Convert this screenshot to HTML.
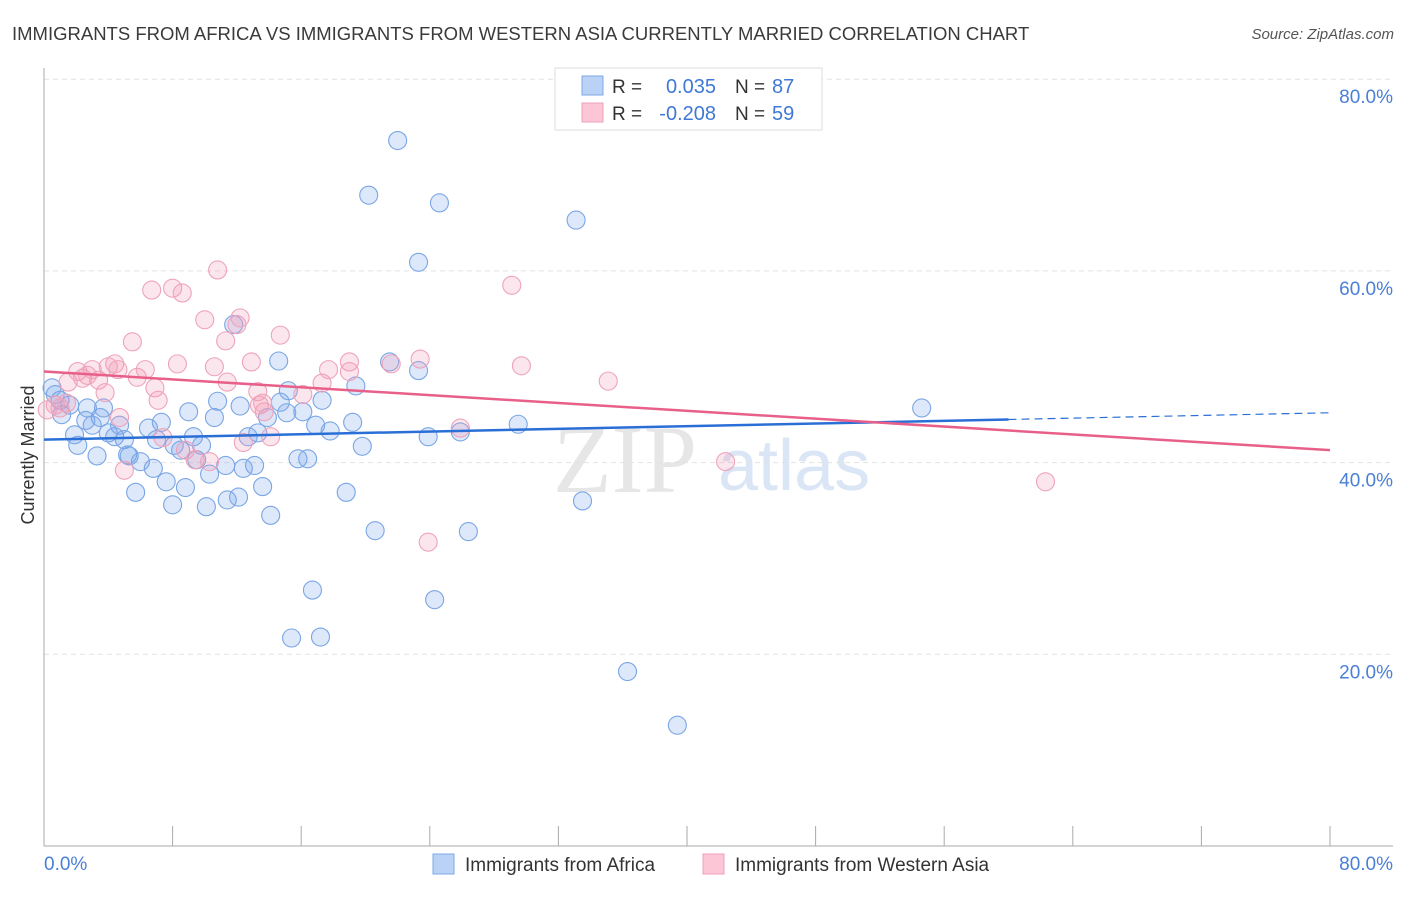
<!DOCTYPE html>
<html><head><meta charset="utf-8"><style>
body{margin:0;background:#fff;font-family:"Liberation Sans",sans-serif}
</style></head><body>
<svg id="c" width="1406" height="892" xmlns="http://www.w3.org/2000/svg" font-family="Liberation Sans, sans-serif">
<text x="12" y="40" font-size="18.5" fill="#3a3a3a">IMMIGRANTS FROM AFRICA VS IMMIGRANTS FROM WESTERN ASIA CURRENTLY MARRIED CORRELATION CHART</text>
<text x="1394" y="39" font-size="15" fill="#555" font-style="italic" text-anchor="end">Source: ZipAtlas.com</text>
<text x="553" y="492" font-size="96" font-family="Liberation Serif, serif" fill="#e6e6e6">ZIP</text>
<text x="718" y="490" font-size="72" fill="#dae6f6">atlas</text>
<g id="grid"></g><g id="axes"></g><g id="pts"></g><g id="lines"></g>
<text transform="translate(34,455) rotate(-90)" font-size="18" fill="#333" text-anchor="middle">Currently Married</text>
<g>
<rect x="555" y="68" width="267" height="62" fill="#fff" stroke="#ddd"/>
<rect x="582" y="76" width="21" height="19" fill="#b9d2f5" stroke="#7fa8e6"/>
<rect x="582" y="103" width="21" height="19" fill="#fcc6d6" stroke="#eda0b8"/>
<text x="612" y="93" font-size="19" fill="#333">R = </text><text x="716" y="93" font-size="20" fill="#3f78d6" text-anchor="end">0.035</text>
<text x="735" y="93" font-size="19" fill="#333">N = </text><text x="772" y="93" font-size="20" fill="#3f78d6">87</text>
<text x="612" y="120" font-size="19" fill="#333">R = </text><text x="716" y="120" font-size="20" fill="#3f78d6" text-anchor="end">-0.208</text>
<text x="735" y="120" font-size="19" fill="#333">N = </text><text x="772" y="120" font-size="20" fill="#3f78d6">59</text>
</g>
<g>
<rect x="433" y="854" width="21" height="20" fill="#b9d2f5" stroke="#7fa8e6"/>
<text x="465" y="871" font-size="19" fill="#333">Immigrants from Africa</text>
<rect x="703" y="854" width="21" height="20" fill="#fcc6d6" stroke="#eda0b8"/>
<text x="735" y="871" font-size="19" fill="#333">Immigrants from Western Asia</text>
</g>
</svg>
<script>
const blueX=[0.5,0.7,1.0,1.1,1.6,1.9,2.1,2.6,2.7,3.0,3.3,3.5,3.7,4.0,4.4,4.7,5.0,5.2,5.3,5.7,6.0,6.5,6.8,7.0,7.3,7.6,8.0,8.1,8.5,8.8,9.0,9.3,9.5,9.8,10.1,10.3,10.6,10.8,11.3,11.4,11.8,12.1,12.2,12.4,12.7,13.1,13.3,13.6,13.9,14.1,14.6,14.7,15.1,15.2,15.4,15.8,16.1,16.4,16.7,16.9,17.2,17.3,17.8,18.8,19.2,19.4,19.8,20.2,20.6,21.5,22.0,23.3,23.3,23.9,24.3,24.6,25.9,26.4,29.5,33.1,33.5,36.3,39.4,54.6];
const blueY=[47.8,47.1,46.5,45.0,46.0,42.9,41.8,44.4,45.7,43.9,40.7,44.7,45.7,43.1,42.7,43.9,42.4,40.8,40.7,36.9,40.1,43.6,39.4,42.4,44.2,38.0,35.6,41.8,41.3,37.4,45.3,42.7,40.3,41.8,35.4,38.8,44.7,46.4,39.7,36.1,54.4,36.4,45.9,39.4,42.7,39.7,43.1,37.5,44.7,34.5,50.6,46.3,45.2,47.5,21.7,40.4,45.3,40.4,26.7,43.9,21.8,46.5,43.3,36.9,44.2,48.0,41.7,67.9,32.9,50.5,73.6,49.6,60.9,42.7,25.7,67.1,43.2,32.8,44.0,65.3,36.0,18.2,12.6,45.7];
const pinkX=[0.2,0.7,1.0,1.4,1.5,2.1,2.4,2.7,3.0,3.4,3.8,4.0,4.4,4.6,4.7,5.0,5.5,5.8,6.3,6.7,6.9,7.1,7.4,8.0,8.3,8.6,8.8,9.4,10.0,10.3,10.6,10.8,11.3,11.4,12.0,12.2,12.9,13.3,13.4,13.7,14.1,14.7,16.1,17.3,17.7,19.0,19.0,21.6,23.4,23.9,25.9,29.1,29.7,35.1,42.4,62.3,13.6,12.4];
const pinkY=[45.5,46.0,45.7,46.2,48.4,49.5,48.8,49.1,49.7,48.6,47.3,50.0,50.3,49.7,44.7,39.2,52.6,48.9,49.7,58.0,47.8,46.5,42.6,58.2,50.3,57.7,41.3,40.3,54.9,40.1,50.0,60.1,52.7,48.4,54.4,55.1,50.5,47.4,46.0,45.3,42.7,53.3,47.1,48.3,49.7,50.5,49.5,50.3,50.8,31.7,43.6,58.5,50.1,48.5,40.1,38.0,46.2,42.1];
const yTicks=[20,40,60,80];
const xTickLabels=["0.0%","80.0%"];
const blueTrend=[42.4,45.2];
const pinkTrend=[49.5,41.3];
const NS="http://www.w3.org/2000/svg";
const X=v=>44+v/80*1286, Y=v=>846-v/20*191.7;
function mk(tag,parent,attrs){const e=document.createElementNS(NS,tag);for(const k in attrs)e.setAttribute(k,attrs[k]);document.getElementById(parent).appendChild(e);return e;}
yTicks.forEach(t=>{
 const g=mk('line','grid',{x1:44,x2:1393,y1:Y(t),y2:Y(t),stroke:'#e2e2e2','stroke-dasharray':'5,4'});
 
 
 const l=mk('text','grid',{x:1393,y:Y(t)+24,'font-size':19,fill:'#4a7fd6','text-anchor':'end'});
 l.textContent=t.toFixed(1)+'%';
 
 
});
const ax=mk('line','axes',{x1:44,x2:44,y1:68,y2:846,stroke:'#aaa'});


const bx=mk('line','axes',{x1:44,x2:1393,y1:846,y2:846,stroke:'#aaa'});


for(let i=0;i<=10;i++){const t=mk('line','axes',{x1:X(i*8),x2:X(i*8),y1:826,y2:846,stroke:'#aaa'});
 
 }
const x0=mk('text','axes',{x:44,y:870,'font-size':19,fill:'#4a7fd6'});x0.textContent=xTickLabels[0];


const x1=mk('text','axes',{x:1393,y:870,'font-size':19,fill:'#4a7fd6','text-anchor':'end'});x1.textContent=xTickLabels[1];


blueX.forEach((v,i)=>{const c=mk('circle','pts',{cx:X(v),cy:Y(blueY[i]),r:9,fill:'rgba(120,165,235,0.25)',stroke:'#7aa6e4','stroke-width':1.1});
 
 });
pinkX.forEach((v,i)=>{const c=mk('circle','pts',{cx:X(v),cy:Y(pinkY[i]),r:9,fill:'rgba(245,155,185,0.25)',stroke:'#eea3bb','stroke-width':1.1});
 
 });
const bAt=v=>blueTrend[0]+(blueTrend[1]-blueTrend[0])*v/80;
const b1=mk('line','lines',{x1:X(0),y1:Y(bAt(0)),x2:X(60),y2:Y(bAt(60)),stroke:'#2a6fd6','stroke-width':2.5});


const b2=mk('line','lines',{x1:X(60),y1:Y(bAt(60)),x2:X(80),y2:Y(bAt(80)),stroke:'#2a6fd6','stroke-width':1.2,'stroke-dasharray':'8,5'});


const p1=mk('line','lines',{x1:X(0),y1:Y(pinkTrend[0]),x2:X(80),y2:Y(pinkTrend[1]),stroke:'#e8608a','stroke-width':2.5});


</script>
</body></html>
